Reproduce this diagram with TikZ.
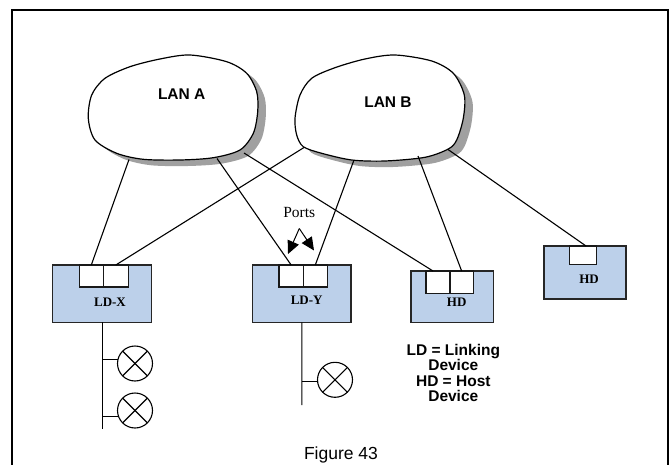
\documentclass[tikz,border=0pt]{standalone}
\usepackage{fontspec}
\setmainfont{Liberation Serif}
\newfontfamily\sansf{Liberation Sans}
\usetikzlibrary{arrows.meta,calc}
\definecolor{boxblue}{HTML}{BCD0EA}
\definecolor{shadowgray}{HTML}{A0A0A0}
\begin{document}
\begin{tikzpicture}[x=1pt,y=-1pt,
  conn/.style={line width=1.1pt},
  devbox/.style={draw=black!85, line width=1.4pt, fill=boxblue, anchor=north west, inner sep=0pt, outer sep=0pt},
  portbox/.style={draw=black!90, line width=1.3pt, fill=white, anchor=north west, inner sep=0pt, outer sep=0pt},
  lamp/.style={circle, draw, line width=1.1pt, minimum size=35pt, inner sep=0pt, outer sep=0pt},
  devlabel/.style={font=\bfseries\fontsize{13}{13}\selectfont, inner sep=0pt},
  lanlabel/.style={font=\sansf\bfseries\fontsize{15.5}{15.5}\selectfont, inner sep=0pt},
  cloudline/.style={draw=black, line width=1.2pt, fill=white},
  portarrow/.style={line width=1pt, -{Triangle[length=13pt,width=12pt]}},
]
\useasboundingbox (0,0) rectangle (671,465);
\clip (0,0) rectangle (671,465);
% frame
\draw[line width=2pt] (11.5,10) rectangle (668,520);

% cloud shadows
\begin{scope}[shift={(8,6)}]
\fill[shadowgray] plot[smooth cycle] coordinates {(190,55) (226.7,61.7) (246.7,73.3) (256.7,91.7) (257.7,111.7) (253.3,133.3) (240,150) (213.3,157.7) (180,160) (143.3,159.3) (116.7,153.3) (95,140) (88.3,118.3) (91.7,95) (105,78.3) (130,66.7) (160,59)};
\fill[shadowgray] plot[smooth cycle] coordinates {(395,55) (431.7,61) (453.3,73.3) (464.3,95) (463.3,118.3) (456.7,140) (448.3,149) (425,157.3) (385,161) (351.7,160) (321.7,153.3) (303.3,146.7) (296.7,135) (295,118.3) (300,95) (311.7,78.3) (335,67.7) (365,59)};
\end{scope}
% clouds
\path[cloudline] plot[smooth cycle] coordinates {(190,55) (226.7,61.7) (246.7,73.3) (256.7,91.7) (257.7,111.7) (253.3,133.3) (240,150) (213.3,157.7) (180,160) (143.3,159.3) (116.7,153.3) (95,140) (88.3,118.3) (91.7,95) (105,78.3) (130,66.7) (160,59)};
\path[cloudline] plot[smooth cycle] coordinates {(395,55) (431.7,61) (453.3,73.3) (464.3,95) (463.3,118.3) (456.7,140) (448.3,149) (425,157.3) (385,161) (351.7,160) (321.7,153.3) (303.3,146.7) (296.7,135) (295,118.3) (300,95) (311.7,78.3) (335,67.7) (365,59)};
\node[lanlabel] (lanA) at (181.7,93.7) {LAN A};
\node[lanlabel] (lanB) at (388,101.7) {LAN B};

% connection points on clouds
\coordinate (a1) at (129,159.5);
\coordinate (a2) at (217,158.5);
\coordinate (a3) at (244,153);
\coordinate (b1) at (304,147.5);
\coordinate (b2) at (354,160);
\coordinate (b3) at (418,156);
\coordinate (b4) at (448,149.5);

% devices
\node[devbox, minimum width=99pt, minimum height=57.3pt] (ldx) at (52.7,265) {};
\node[devbox, minimum width=98.3pt, minimum height=57.3pt] (ldy) at (252.7,265) {};
\node[devbox, minimum width=82.3pt, minimum height=51.7pt] (hda) at (411,271) {};
\node[devbox, minimum width=82pt, minimum height=53pt] (hdb) at (544,246) {};
% ports
\node[portbox, minimum width=24pt, minimum height=22pt] (ldxp1) at (79.3,265) {};
\node[portbox, minimum width=25pt, minimum height=22pt] (ldxp2) at (103.3,265) {};
\node[portbox, minimum width=24.3pt, minimum height=22pt] (ldyp1) at (279,265) {};
\node[portbox, minimum width=24pt, minimum height=22pt] (ldyp2) at (303.3,265) {};
\node[portbox, minimum width=24pt, minimum height=22.3pt] (hdap1) at (426,271) {};
\node[portbox, minimum width=23.3pt, minimum height=22.3pt] (hdap2) at (450,271) {};
\node[portbox, minimum width=27.4pt, minimum height=18.3pt] (hdbp) at (569.3,246) {};
% device labels
\node[devlabel] (ldxlab) at (110,302.7) {LD-X};
\node[devlabel] (ldylab) at (306.7,300.7) {LD-Y};
\node[devlabel] (hdalab) at (456.7,302.7) {HD};
\node[devlabel] (hdblab) at (589,279.3) {HD};

% connectors
\draw[conn] (a1) -- (ldxp1.north);
\draw[conn] (b1) -- (ldxp2.north);
\draw[conn] (a2) -- (ldyp1.north);
\draw[conn] (b2) -- (ldyp2.north);
\draw[conn] (a3) -- ([xshift=-5pt]hdap1.north);
\draw[conn] (b3) -- (hdap2.north);
\draw[conn] (b4) -- ([xshift=3pt]hdbp.north);

% Ports label and arrows
\node[font=\fontsize{15.5}{15.5}\selectfont, inner sep=0pt] (ports) at (299.3,212.7) {Ports};
\coordinate (apex) at (299.3,228.5);
\coordinate (tipL) at (288,254);
\coordinate (tipR) at (314,250.5);
\draw[portarrow] (apex) -- (tipL);
\draw[portarrow] (apex) -- (tipR);

% lamps on LD-X
\coordinate (ldxend) at (102.2,428.5);
\draw[conn] (ldx.south) -- (ldxend);
\node[lamp] (lamp1) at (135,363.5) {};
\node[lamp] (lamp2) at (135,410.5) {};
\draw[conn] (lamp1.167) -- (lamp1.167 -| ldx.south);
\draw[conn] (lamp2.200) -- (lamp2.200 -| ldx.south);
% lamp on LD-Y
\coordinate (ldyend) at (301.85,405);
\draw[conn] (ldy.south) -- (ldyend);
\node[lamp] (lamp3) at (335,379.8) {};
\draw[conn] (lamp3.186) -- (lamp3.186 -| ldy.south);
\foreach \l in {lamp1,lamp2,lamp3}{
  \draw[conn] (\l.45) -- (\l.225);
  \draw[conn] (\l.135) -- (\l.315);
}

% legend
\node[font=\sansf\bfseries\fontsize{15.5}{15.2}\selectfont, align=center, inner sep=0pt] (legend) at (453.3,373) {LD = Linking\\Device\\HD = Host\\Device};
% caption
\node[font=\sansf\fontsize{17.5}{17.5}\selectfont, anchor=base, inner sep=0pt] (fig) at (341,459) {Figure 43};
\end{tikzpicture}
\end{document}
